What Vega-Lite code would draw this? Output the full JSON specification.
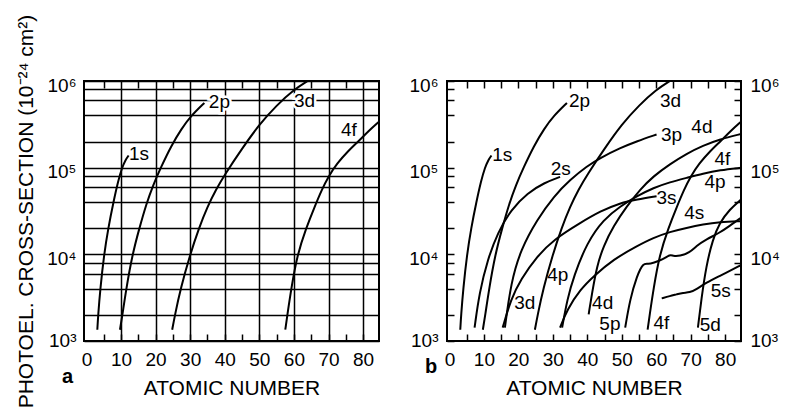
{
  "$schema": "https://vega.github.io/schema/vega-lite/v6.json",
  "background": "white",
  "padding": {"left": 14, "top": 13, "right": 0, "bottom": 0},
  "bounds": "flush",
  "spacing": 68,
  "config": {
    "font": "Liberation Sans",
    "view": {"stroke": "black", "strokeWidth": 2},
    "axis": {
      "labelFont": "Liberation Sans", "labelFontSize": 19, "labelColor": "black",
      "titleFont": "Liberation Sans", "titleFontSize": 21, "titleFontWeight": "normal", "titleColor": "black",
      "domain": false, "tickColor": "black", "tickWidth": 1.5, "gridColor": "black", "gridWidth": 1.5,
      "labelFlush": false, "labelOverlap": false
    },
    "title": {"font": "Liberation Sans", "color": "black"}
  },
  "datasets": {
    "curves": [
      {"c": "1s", "Z": 3.15, "s": 1349}, {"c": "1s", "Z": 3.4, "s": 1995}, {"c": "1s", "Z": 4.0, "s": 3981}, {"c": "1s", "Z": 5.1, "s": 10000}, {"c": "1s", "Z": 6.3, "s": 19953}, {"c": "1s", "Z": 7.8, "s": 39811}, {"c": "1s", "Z": 9.2, "s": 70795}, {"c": "1s", "Z": 10.3, "s": 100000}, {"c": "1s", "Z": 11.3, "s": 123027}, {"c": "1s", "Z": 12.2, "s": 138038},
      {"c": "2p", "Z": 9.7, "s": 1349}, {"c": "2p", "Z": 10.4, "s": 1995}, {"c": "2p", "Z": 11.5, "s": 3981}, {"c": "2p", "Z": 13.3, "s": 10000}, {"c": "2p", "Z": 15.3, "s": 19953}, {"c": "2p", "Z": 17.3, "s": 38019}, {"c": "2p", "Z": 19.3, "s": 63096}, {"c": "2p", "Z": 21.5, "s": 100000}, {"c": "2p", "Z": 24.5, "s": 177828}, {"c": "2p", "Z": 27.5, "s": 281838}, {"c": "2p", "Z": 30.3, "s": 398107}, {"c": "2p", "Z": 34.1, "s": 558470},
      {"c": "3d", "Z": 24.8, "s": 1349}, {"c": "3d", "Z": 25.6, "s": 1995}, {"c": "3d", "Z": 27.2, "s": 3981}, {"c": "3d", "Z": 30.0, "s": 10000}, {"c": "3d", "Z": 32.5, "s": 19953}, {"c": "3d", "Z": 35.0, "s": 35481}, {"c": "3d", "Z": 37.5, "s": 56234}, {"c": "3d", "Z": 40.0, "s": 83176}, {"c": "3d", "Z": 45.0, "s": 165959}, {"c": "3d", "Z": 50.0, "s": 316228}, {"c": "3d", "Z": 55.0, "s": 524807}, {"c": "3d", "Z": 60.0, "s": 794328}, {"c": "3d", "Z": 64.0, "s": 1000000},
      {"c": "4f", "Z": 57.5, "s": 1349}, {"c": "4f", "Z": 58.1, "s": 1995}, {"c": "4f", "Z": 59.2, "s": 3981}, {"c": "4f", "Z": 61.0, "s": 10000}, {"c": "4f", "Z": 63.5, "s": 19953}, {"c": "4f", "Z": 66.0, "s": 35481}, {"c": "4f", "Z": 68.0, "s": 54954}, {"c": "4f", "Z": 70.0, "s": 79433}, {"c": "4f", "Z": 72.5, "s": 112202}, {"c": "4f", "Z": 75.6, "s": 154882}, {"c": "4f", "Z": 78.8, "s": 204174}, {"c": "4f", "Z": 81.5, "s": 263027}, {"c": "4f", "Z": 84.6, "s": 338844},
      {"c": "2s", "Z": 7.3, "s": 1426}, {"c": "2s", "Z": 8.7, "s": 3614}, {"c": "2s", "Z": 11.1, "s": 8750}, {"c": "2s", "Z": 14.0, "s": 17740}, {"c": "2s", "Z": 17.9, "s": 32960}, {"c": "2s", "Z": 22.7, "s": 51290}, {"c": "2s", "Z": 27.5, "s": 66830}, {"c": "2s", "Z": 32.1, "s": 78340},
      {"c": "3s", "Z": 15.45, "s": 1426}, {"c": "3s", "Z": 17.85, "s": 3027}, {"c": "3s", "Z": 20.7, "s": 5140}, {"c": "3s", "Z": 25.5, "s": 9550}, {"c": "3s", "Z": 30.3, "s": 14860}, {"c": "3s", "Z": 38.0, "s": 23120}, {"c": "3s", "Z": 43.8, "s": 31480}, {"c": "3s", "Z": 49.6, "s": 39260}, {"c": "3s", "Z": 54.4, "s": 42950}, {"c": "3s", "Z": 60.1, "s": 46880},
      {"c": "3p", "Z": 16.1, "s": 1426}, {"c": "3p", "Z": 17.85, "s": 4710}, {"c": "3p", "Z": 20.7, "s": 11400}, {"c": "3p", "Z": 25.5, "s": 25230}, {"c": "3p", "Z": 30.3, "s": 46880}, {"c": "3p", "Z": 35.1, "s": 72950}, {"c": "3p", "Z": 39.9, "s": 104000}, {"c": "3p", "Z": 43.8, "s": 129700}, {"c": "3p", "Z": 49.6, "s": 169000}, {"c": "3p", "Z": 54.4, "s": 201800}, {"c": "3p", "Z": 60.1, "s": 241000},
      {"c": "4p", "Z": 32.7, "s": 1426}, {"c": "4p", "Z": 34.2, "s": 3027}, {"c": "4p", "Z": 36.1, "s": 5623}, {"c": "4p", "Z": 39.9, "s": 13610}, {"c": "4p", "Z": 44.7, "s": 25230}, {"c": "4p", "Z": 49.6, "s": 35970}, {"c": "4p", "Z": 54.4, "s": 46880}, {"c": "4p", "Z": 59.2, "s": 58480}, {"c": "4p", "Z": 64.0, "s": 68080}, {"c": "4p", "Z": 68.8, "s": 76210}, {"c": "4p", "Z": 73.6, "s": 85510}, {"c": "4p", "Z": 78.4, "s": 93540}, {"c": "4p", "Z": 84.6, "s": 99540},
      {"c": "4s", "Z": 32.1, "s": 1426}, {"c": "4s", "Z": 34.2, "s": 2323}, {"c": "4s", "Z": 38.0, "s": 3945}, {"c": "4s", "Z": 41.9, "s": 5623}, {"c": "4s", "Z": 47.6, "s": 8750}, {"c": "4s", "Z": 54.4, "s": 12450}, {"c": "4s", "Z": 59.2, "s": 15520}, {"c": "4s", "Z": 64.0, "s": 18200}, {"c": "4s", "Z": 68.8, "s": 20230}, {"c": "4s", "Z": 73.6, "s": 22130}, {"c": "4s", "Z": 78.4, "s": 23550}, {"c": "4s", "Z": 84.6, "s": 24150},
      {"c": "4d", "Z": 40.4, "s": 2032}, {"c": "4d", "Z": 41.4, "s": 3614}, {"c": "4d", "Z": 42.8, "s": 7328}, {"c": "4d", "Z": 44.7, "s": 12450}, {"c": "4d", "Z": 47.6, "s": 21180}, {"c": "4d", "Z": 51.5, "s": 35970}, {"c": "4d", "Z": 55.3, "s": 55980}, {"c": "4d", "Z": 59.2, "s": 79800}, {"c": "4d", "Z": 64.0, "s": 110000}, {"c": "4d", "Z": 68.8, "s": 145000}, {"c": "4d", "Z": 73.6, "s": 180000}, {"c": "4d", "Z": 78.4, "s": 212000}, {"c": "4d", "Z": 84.6, "s": 245000},
      {"c": "5p", "Z": 51.0, "s": 1426}, {"c": "5p", "Z": 52.4, "s": 3027}, {"c": "5p", "Z": 54.4, "s": 5623}, {"c": "5p", "Z": 56.2, "s": 8000}, {"c": "5p", "Z": 57.7, "s": 7660}, {"c": "5p", "Z": 59.2, "s": 8000}, {"c": "5p", "Z": 62.0, "s": 8750}, {"c": "5p", "Z": 64.0, "s": 10000}, {"c": "5p", "Z": 64.9, "s": 9550}, {"c": "5p", "Z": 66.8, "s": 9550}, {"c": "5p", "Z": 69.7, "s": 10420}, {"c": "5p", "Z": 71.6, "s": 12450}, {"c": "5p", "Z": 74.5, "s": 14860}, {"c": "5p", "Z": 78.4, "s": 17740}, {"c": "5p", "Z": 81.2, "s": 21180}, {"c": "5p", "Z": 84.6, "s": 26420},
      {"c": "5s", "Z": 61.6, "s": 3105}, {"c": "5s", "Z": 64.0, "s": 3304}, {"c": "5s", "Z": 65.9, "s": 3451}, {"c": "5s", "Z": 67.8, "s": 3614}, {"c": "5s", "Z": 69.7, "s": 3614}, {"c": "5s", "Z": 71.6, "s": 3945}, {"c": "5s", "Z": 74.5, "s": 4710}, {"c": "5s", "Z": 78.4, "s": 5623}, {"c": "5s", "Z": 84.6, "s": 7516},
      {"c": "5d", "Z": 72.1, "s": 1426}, {"c": "5d", "Z": 73.1, "s": 3027}, {"c": "5d", "Z": 74.5, "s": 7328}, {"c": "5d", "Z": 76.4, "s": 14860}, {"c": "5d", "Z": 78.4, "s": 23120}, {"c": "5d", "Z": 81.3, "s": 32960}, {"c": "5d", "Z": 84.6, "s": 42950}
    ],
    "labelsA": [
      {"t": "1s", "Z": 12.3, "s": 145000}, {"t": "2p", "Z": 35.4, "s": 579000}, {"t": "3d", "Z": 60.0, "s": 595000}, {"t": "4f", "Z": 73.6, "s": 275000}
    ],
    "labelsB": [
      {"t": "2p", "Z": 34.7, "s": 583000}, {"t": "1s", "Z": 12.4, "s": 141600}, {"t": "2s", "Z": 29.4, "s": 96800},
      {"t": "3d", "Z": 61.1, "s": 583000}, {"t": "3p", "Z": 61.4, "s": 241000}, {"t": "4d", "Z": 70.2, "s": 292400},
      {"t": "4f", "Z": 76.9, "s": 126200}, {"t": "4p", "Z": 74.0, "s": 68080}, {"t": "3s", "Z": 60.1, "s": 44870},
      {"t": "4s", "Z": 68.1, "s": 30130}, {"t": "5s", "Z": 75.8, "s": 3776}, {"t": "3d", "Z": 18.8, "s": 2767},
      {"t": "4p", "Z": 28.4, "s": 5715}, {"t": "4d", "Z": 41.4, "s": 2723}, {"t": "5p", "Z": 43.5, "s": 1560},
      {"t": "4f", "Z": 59.2, "s": 1629}, {"t": "5d", "Z": 72.6, "s": 1517}
    ]
  },
  "hconcat": [
    {
      "width": 295,
      "height": 260,
      "title": {"text": "a", "orient": "bottom", "anchor": "start", "frame": "group", "fontSize": 20, "fontWeight": "bold", "dx": -22, "offset": -41},
      "layer": [
        {
          "data": {"name": "labelsA"},
          "mark": {"type": "text", "align": "left", "baseline": "middle", "fontSize": 19, "font": "Liberation Sans", "color": "white", "stroke": "white", "strokeWidth": 5},
          "encoding": {
            "x": {"field": "Z", "type": "quantitative", "axis": null},
            "y": {"field": "s", "type": "quantitative", "axis": null},
            "text": {"field": "t"}
          }
        },
        {
          "data": {"name": "curves"},
          "transform": [{"filter": {"field": "c", "oneOf": ["1s", "2p", "3d", "4f"]}}],
          "mark": {"type": "line", "color": "black", "strokeWidth": 2, "interpolate": "basis", "clip": true},
          "encoding": {
            "x": {"field": "Z", "type": "quantitative", "scale": {"domain": [-0.7, 84.6], "nice": false, "zero": false},
              "axis": {"orient": "bottom", "title": "ATOMIC NUMBER", "values": [0, 5, 10, 15, 20, 25, 30, 35, 40, 45, 50, 55, 60, 65, 70, 75, 80],
                "labelExpr": "datum.value % 10 === 0 ? datum.label : ''", "grid": true,
                "gridOpacity": {"condition": {"test": "datum.value % 10 === 0 && datum.value > 0", "value": 1}, "value": 0},
                "tickOpacity": {"condition": {"test": "datum.value === 0", "value": 0}, "value": 1},
                "ticks": true, "tickSize": 7, "offset": -7, "labelPadding": 9, "titlePadding": 8}},
            "y": {"field": "s", "type": "quantitative", "scale": {"type": "log", "domain": [1000, 1000000], "nice": false},
              "axis": {"orient": "left", "title": "PHOTOEL. CROSS-SECTION (10⁻²⁴ cm²)", "values": [1000, 2000, 4000, 6000, 8000, 10000, 20000, 40000, 60000, 80000, 100000, 200000, 400000, 600000, 800000, 1000000],
                "labelExpr": "datum.value === 1000 ? '10³' : datum.value === 10000 ? '10⁴' : datum.value === 100000 ? '10⁵' : datum.value === 1000000 ? '10⁶' : ''",
                "labelOffset": {"condition": {"test": "datum.value === 1000", "value": -1}, "value": 4},
                "grid": true, "ticks": false, "labelPadding": 8, "titlePadding": 10}},
            "detail": {"field": "c"}
          }
        },
        {
          "data": {"name": "labelsA"},
          "mark": {"type": "text", "align": "left", "baseline": "middle", "fontSize": 19, "font": "Liberation Sans", "color": "black"},
          "encoding": {
            "x": {"field": "Z", "type": "quantitative",
              "axis": {"orient": "top", "values": [5, 15, 25, 35, 45, 55, 65, 75], "labels": false, "title": null, "grid": false, "tickSize": 7, "offset": -7}},
            "y": {"field": "s", "type": "quantitative", "axis": null},
            "text": {"field": "t"}
          }
        }
      ],
      "resolve": {"axis": {"x": "independent", "y": "independent"}}
    },
    {
      "width": 294,
      "height": 260,
      "title": {"text": "b", "orient": "bottom", "anchor": "start", "frame": "group", "fontSize": 20, "fontWeight": "bold", "dx": -22, "offset": -41},
      "layer": [
        {
          "data": {"name": "curves"},
          "mark": {"type": "line", "color": "black", "strokeWidth": 2, "interpolate": "basis", "clip": true},
          "encoding": {
            "x": {"field": "Z", "type": "quantitative", "scale": {"domain": [-0.7, 84.6], "nice": false, "zero": false},
              "axis": {"orient": "bottom", "title": "ATOMIC NUMBER", "values": [0, 5, 10, 15, 20, 25, 30, 35, 40, 45, 50, 55, 60, 65, 70, 75, 80],
                "labelExpr": "datum.value % 10 === 0 ? datum.label : ''", "grid": false,
                "tickOpacity": {"condition": {"test": "datum.value === 0", "value": 0}, "value": 1},
                "ticks": true, "tickSize": 7, "offset": -7, "labelPadding": 9, "titlePadding": 8}},
            "y": {"field": "s", "type": "quantitative", "scale": {"type": "log", "domain": [1000, 1000000], "nice": false},
              "axis": {"orient": "left", "title": null, "values": [1000, 2000, 4000, 6000, 8000, 10000, 20000, 40000, 60000, 80000, 100000, 200000, 400000, 600000, 800000, 1000000],
                "labelExpr": "datum.value === 1000 ? '10³' : datum.value === 10000 ? '10⁴' : datum.value === 100000 ? '10⁵' : datum.value === 1000000 ? '10⁶' : ''",
                "labelOffset": {"condition": {"test": "datum.value === 1000", "value": -1}, "value": 4},
                "grid": false, "ticks": true, "tickSize": 7, "offset": -7, "labelPadding": 9}},
            "detail": {"field": "c"}
          }
        },
        {
          "data": {"name": "labelsB"},
          "mark": {"type": "text", "align": "left", "baseline": "middle", "fontSize": 19, "font": "Liberation Sans", "color": "black"},
          "encoding": {
            "x": {"field": "Z", "type": "quantitative",
              "axis": {"orient": "top", "values": [5, 10, 15, 20, 25, 30, 35, 40, 45, 50, 55, 60, 65, 70, 75, 80], "labels": false, "title": null, "grid": false, "tickSize": 7, "offset": -7}},
            "y": {"field": "s", "type": "quantitative",
              "axis": {"orient": "right", "title": null, "values": [1000, 2000, 4000, 6000, 8000, 10000, 20000, 40000, 60000, 80000, 100000, 200000, 400000, 600000, 800000, 1000000],
                "labelExpr": "datum.value === 1000 ? '10³' : datum.value === 10000 ? '10⁴' : datum.value === 100000 ? '10⁵' : datum.value === 1000000 ? '10⁶' : ''",
                "labelOffset": {"condition": {"test": "datum.value === 1000", "value": -1}, "value": 4},
                "grid": false, "ticks": true, "tickSize": 7, "offset": -7, "labelPadding": 9}},
            "text": {"field": "t"}
          }
        }
      ],
      "resolve": {"axis": {"x": "independent", "y": "independent"}}
    }
  ]
}
